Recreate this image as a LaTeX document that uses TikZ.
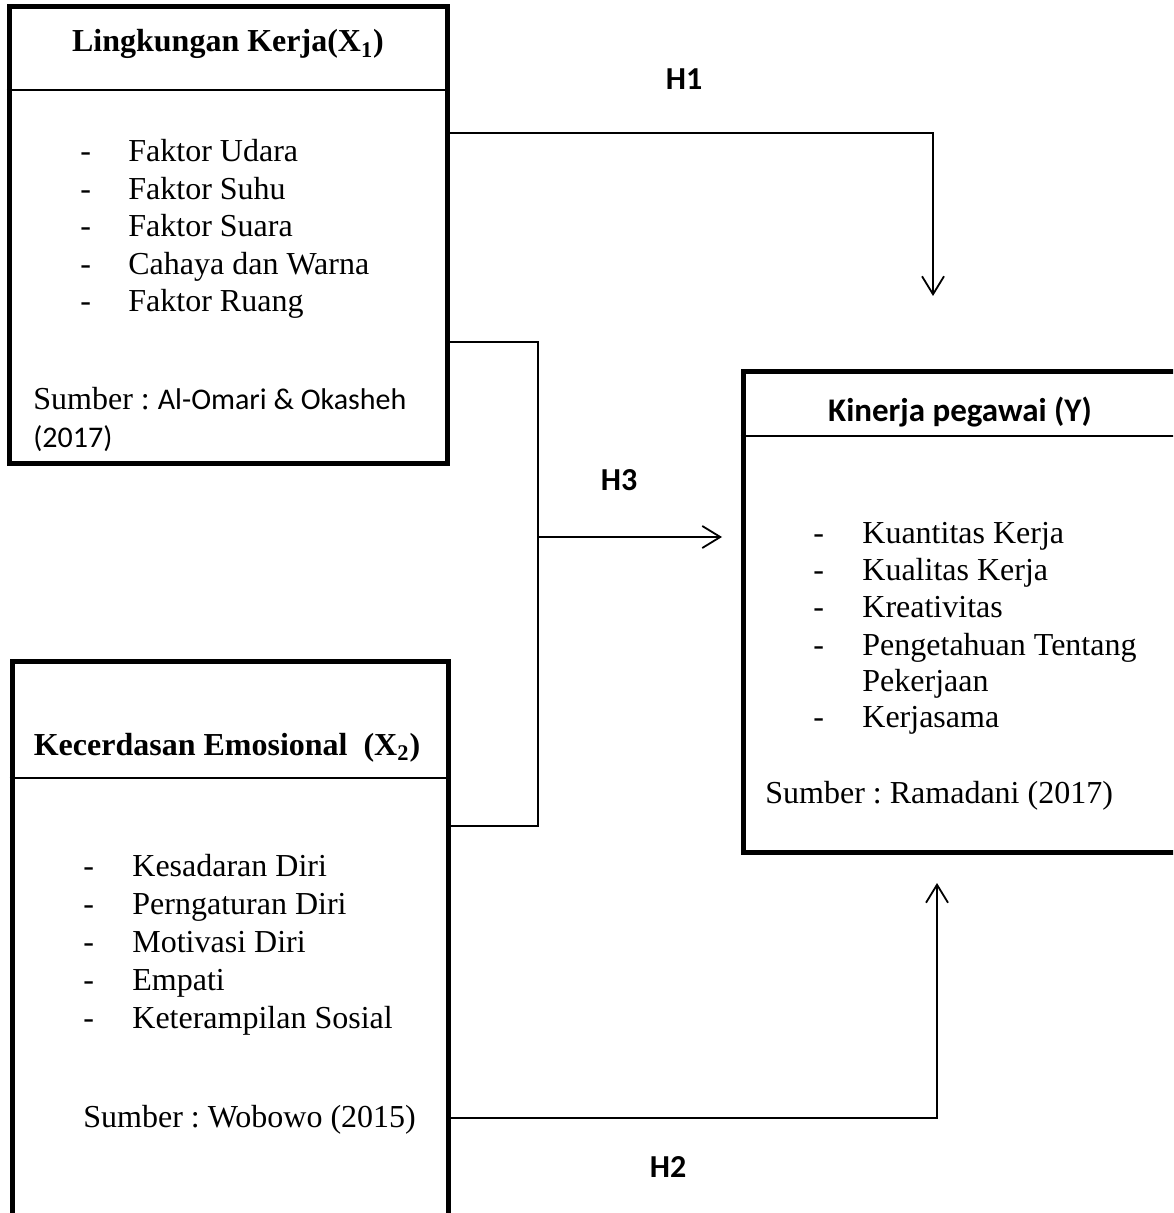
\documentclass[tikz,border=0pt]{standalone}
\usepackage{fontspec}
\setmainfont{Liberation Serif}
\newfontfamily\calibri{Carlito}
\usepackage{tikz}
\usetikzlibrary{positioning}
\usetikzlibrary{arrows.meta,calc}

\newcommand{\sansbit}[1]{{\calibri\fontsize{15}{18}\selectfont #1}}
\frenchspacing

\tikzset{
  box/.style={draw, line width=2.5pt, inner sep=0pt},
  divider/.style={line width=1pt},
  link/.style={line width=0.8pt},
  linkarrow/.style={link, -{Straight Barb[length=9pt,width=11pt,line width=0.9pt]}},
  item/.style={anchor=base west, inner sep=0pt, font=\fontsize{16}{19}\selectfont},
  head/.style={anchor=base, inner sep=0pt, font=\fontsize{16}{19}\selectfont\bfseries},
  hlabel/.style={inner sep=0pt, font=\calibri\fontsize{16}{19}\selectfont\bfseries},
}

\begin{document}
\begin{tikzpicture}[x=0.5pt, y=-0.5pt]
   \clip (0,0) rectangle (1173,1213);

   % the three boxes
   \node[box, minimum width=219pt, minimum height=228pt] (X1) at (228,235) {};
   \node[box, minimum width=218.5pt, minimum height=240pt] (Y) at (961.5,612) {};
   \node[box, minimum width=218pt, minimum height=290pt] (X2) at (230,951) {};

   \draw[divider] (X1.west |- 0,90) -- (X1.east |- 0,90);
   \draw[divider] (Y.west |- 0,436) -- (Y.east |- 0,436);
   \draw[divider] (X2.west |- 0,778) -- (X2.east |- 0,778);

%box X1
   \node[head] (x1head) at (228,52) {Lingkungan Kerja(X\textsubscript{1})};
   \foreach \i/\name in {0/Faktor Udara, 1/Faktor Suhu, 2/Faktor Suara, 3/Cahaya dan Warna, 4/Faktor Ruang}
   {
      \node[item] (x1dash\i) at (80, 162 + \i*37.5) {-};
      \node[item] (x1item\i) at (128, 162 + \i*37.5) {\name};
   }
   \node[item] (x1src) at (33,409) {Sumber : \sansbit{Al-Omari \& Okasheh}};
   \node[item] (x1year) at (33,447) {\sansbit{(2017)}};

%box Y
   \node[head, font=\calibri\fontsize{16.5}{19}\selectfont\bfseries] (yhead) at (960,422) {Kinerja pegawai (Y)};
   \foreach \y/\name/\dash [count=\i] in {543/Kuantitas Kerja/-, 580/Kualitas Kerja/-, 617/Kreativitas/-, 655/Pengetahuan Tentang/-, 691/Pekerjaan/, 727/Kerjasama/-}
   {
      \node[item] (ydash\i) at (813, \y) {\dash};
      \node[item] (yitem\i) at (862, \y) {\name};
   }
   \node[item] (ysrc) at (765,803) {Sumber : Ramadani (2017)};

%box X2
   \node[head] (x2head) at (227,755) {Kecerdasan Emosional\ \ (X\textsubscript{2})};
   \foreach \i/\name in {0/Kesadaran Diri, 1/Perngaturan Diri, 2/Motivasi Diri, 3/Empati, 4/Keterampilan Sosial}
   {
      \node[item] (x2dash\i) at (83, 876 + \i*38) {-};
      \node[item] (x2item\i) at (132, 876 + \i*38) {\name};
   }
   \node[item] (x2src) at (83,1127) {Sumber : Wobowo (2015)};

   % connectors
   \coordinate (h1corner) at (933,133);
   \coordinate (h1end) at (933,296);
   \draw[linkarrow] (X1.east |- h1corner) -- (h1corner) -- (h1end);

   \coordinate (h3top) at (538,342);
   \coordinate (h3bot) at (538,826);
   \coordinate (h3fork) at (538,537);
   \coordinate (h3end) at (722,537);
   \draw[link] (X1.east |- h3top) -- (h3top) -- (h3bot) -- (X2.east |- h3bot);
   \draw[linkarrow] (h3fork) -- (h3end);

   \coordinate (h2corner) at (937,1118);
   \coordinate (h2end) at (937,883);
   \draw[linkarrow] (X2.east |- h2corner) -- (h2corner) -- (h2end);

   \node[hlabel] (H1) at (684,79) {H1};
   \node[hlabel] (H3) at (619,480) {H3};
   \node[hlabel] (H2) at (668,1167) {H2};

\end{tikzpicture}
\end{document}
